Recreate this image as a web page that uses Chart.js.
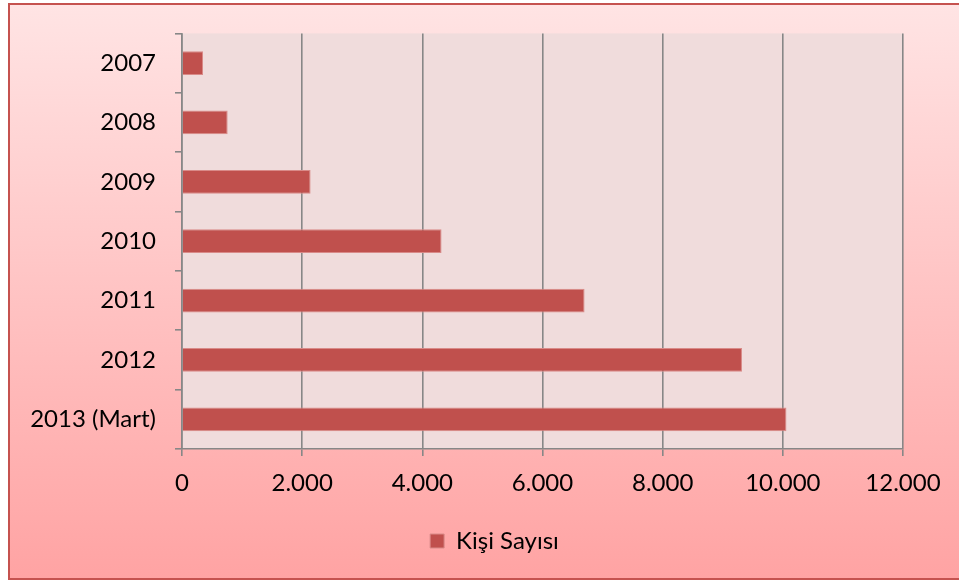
<!DOCTYPE html>
<html>
<head>
<meta charset="utf-8">
<script src="https://cdn.jsdelivr.net/npm/chart.js@4/dist/chart.umd.min.js"></script>
<style>
  html, body { margin: 0; padding: 0; background: #fff; }
  #wrap { width: 959px; height: 581px; position: relative; }
</style>
</head>
<body>
<div id="wrap"><canvas id="c" width="959" height="581"></canvas></div>
<script>
// veriler
const years = ['2007', '2008', '2009', '2010', '2011', '2012', '2013 (Mart)']
const kisiSayisi = [350, 760, 2140, 4320, 6700, 9320, 10060]
const seriesName = 'Kişi Sayısı'
const xTicks = [0, 2000, 4000, 6000, 8000, 10000, 12000]

const fontFam = 'Lato, "Open Sans", sans-serif'

// arka plan + çerçeve
const bgPlugin = {
    id: 'bg',
    afterLayout(chart) { // lejantı biraz sağa kaydır
        chart.legend.left += 43
        chart.legend.right += 43
    },
    beforeDraw(chart) {
        const ctx = chart.ctx
        const g = ctx.createLinearGradient(0, 4, 0, 580)
        g.addColorStop(0, '#FFE4E4')
        g.addColorStop(1, '#FFA3A3')
        ctx.save()
        ctx.fillStyle = g
        ctx.fillRect(9, 4, 960, 576)
        ctx.strokeStyle = '#C5524F'
        ctx.lineWidth = 2
        ctx.strokeRect(9, 4, 970, 575)
        const a = chart.chartArea
        ctx.fillStyle = '#F0DCDC'
        ctx.fillRect(a.left, a.top, a.right - a.left, a.bottom - a.top)
        ctx.restore()
    }
}

new Chart(document.getElementById('c'), {
    type: 'bar',
    data: {
        labels: years,
        datasets: [{
            label: seriesName,
            data: kisiSayisi,
            backgroundColor: '#C0504D',
            borderColor: '#D98A88',
            borderWidth: 1,
            borderSkipped: 'start',
            categoryPercentage: 1,
            barPercentage: 0.4
        }]
    },
    options: {
        indexAxis: 'y',
        responsive: false,
        animation: false,
        devicePixelRatio: 1,
        layout: {padding: {top: 33, right: 56, bottom: 18, left: 0}},
        scales: {
            x: {
                min: 0,
                max: 12000,
                afterBuildTicks(scale) {
                    scale.ticks = xTicks.map(v => ({value: v}))
                },
                afterFit(scale) {
                    scale.height = 70
                },
                ticks: {
                    color: '#000',
                    padding: 13,
                    font: {family: fontFam, size: 24},
                    callback: v => v === 0 ? '0' : v.toLocaleString('de-DE'),
                    maxRotation: 0
                },
                grid: {color: '#878787', lineWidth: 1.6, tickLength: 7},
                border: {color: '#878787', width: 1.6}
            },
            y: {
                afterFit(scale) {
                    scale.width = 182
                },
                ticks: {
                    color: '#000',
                    padding: 19,
                    font: {family: fontFam, size: 24}
                },
                grid: {
                    offset: true,
                    drawOnChartArea: false,
                    color: '#878787',
                    lineWidth: 1.6,
                    tickLength: 7
                },
                border: {color: '#878787', width: 1.6}
            }
        },
        plugins: {
            legend: {
                position: 'bottom',
                labels: {
                    color: '#000',
                    boxWidth: 14,
                    boxHeight: 14,
                    padding: 10,
                    font: {family: fontFam, size: 24}
                }
            },
            tooltip: {enabled: false}
        }
    },
    plugins: [bgPlugin]
})
</script>
</body>
</html>
